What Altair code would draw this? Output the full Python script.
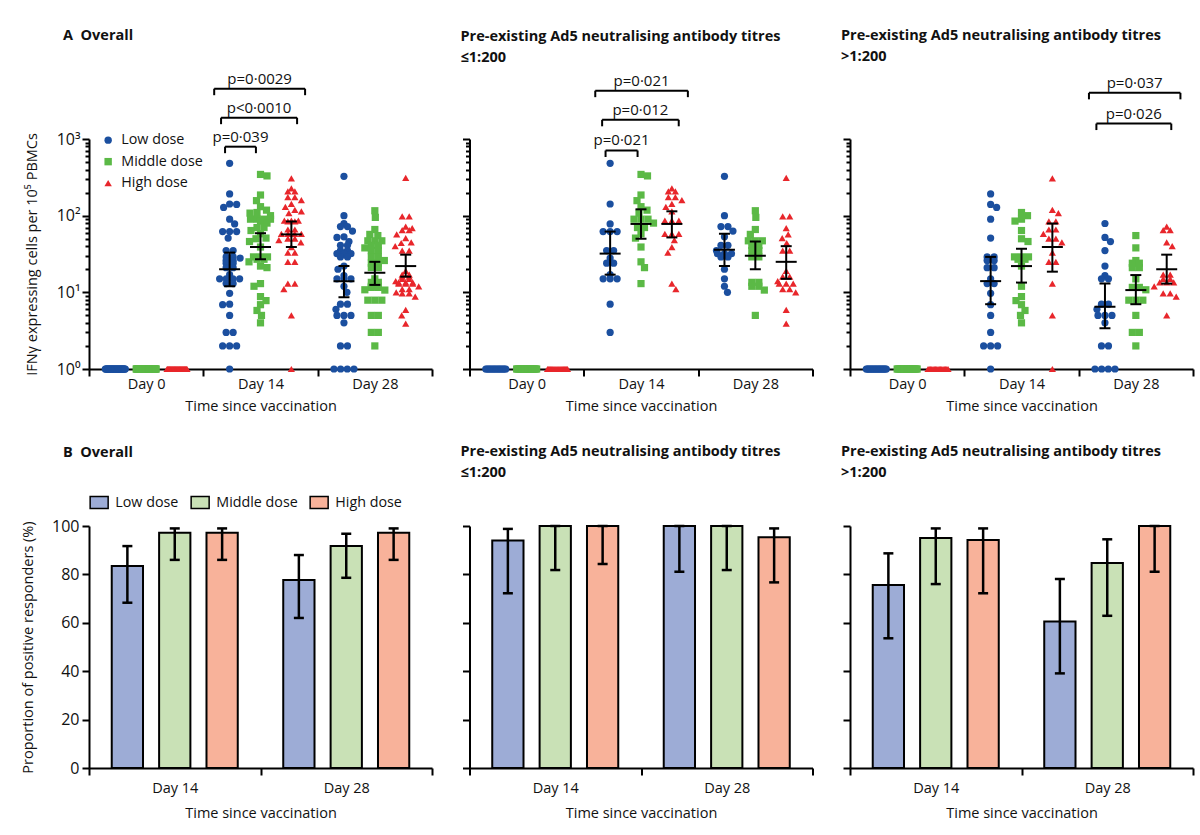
import math
import altair as alt
import pandas as pd

FONT = "Open Sans"
DOSES = ["Low dose", "Middle dose", "High dose"]
DAYS_A = ["Day 0", "Day 14", "Day 28"]
DAYS_B = ["Day 14", "Day 28"]

DOT_COLORS = ["#1B4F9F", "#5BB946", "#E8262B"]
BAR_COLORS = ["#9DACD6", "#C9E1B6", "#F8B29A"]

# ---------------- Panel A: IFN-gamma ELISpot (cells per 10^5 PBMCs) ----------------
# Pre-existing Ad5 NAb <=1:200
le_d0_low = [1] * 17
le_d0_mid = [1] * 19
le_d0_high = [1] * 20
le_d14_low = [482, 142, 78, 62, 62, 62, 35, 35, 28, 24, 24, 17, 15, 15, 15, 7, 3]
le_d14_mid = [345, 330, 186, 157, 131, 118, 108, 90, 90, 90, 80, 70, 70, 58, 51, 39, 25, 21, 13]
le_d14_high = [227, 208, 208, 174, 174, 160, 142, 130, 114, 86, 86, 86, 58, 58, 58, 48, 39, 33, 13, 11]
le_d28_low = [326, 100, 72, 72, 63, 53, 41, 41, 35, 32, 32, 32, 29, 29, 20, 15, 12, 10]
le_d28_mid = [116, 95, 66, 57, 47, 47, 47, 41, 41, 35, 35, 29, 29, 13.5, 13.5, 12, 12, 10.7, 5]
le_d28_high = [310, 98, 98, 69, 57, 51, 44, 35, 35, 19, 16, 16, 14, 13, 13, 13, 11, 11, 10, 5.9, 3.9]

# Pre-existing Ad5 NAb >1:200
gt_d0_low = [1] * 22
gt_d0_mid = [1] * 20
gt_d0_high = [1] * 17
gt_d14_low = [192, 140, 128, 90, 51, 29, 29, 26, 26, 21, 21, 15, 13, 13, 9.7, 6.9, 5, 3, 2, 2, 2, 1]
gt_d14_mid = [110, 100, 90, 85, 64, 50, 46, 29, 29, 29, 27, 27, 22, 12, 8.8, 7.8, 6.9, 5.8, 5, 4]
gt_d14_high = [307, 119, 108, 84, 84, 66, 66, 58, 50, 50, 45, 33, 25, 25, 13, 5, 1]
gt_d28_low = [79, 52, 46, 35, 22, 16.5, 15, 15, 7, 7, 6, 5, 5, 5, 4, 2, 2, 1, 1, 1, 1]
gt_d28_mid = [55, 38, 26, 24, 24, 21, 21, 15, 11.6, 11.6, 10.8, 7.9, 7.9, 7.9, 5, 3, 3, 2]
gt_d28_high = [72, 65, 65, 45, 40, 17, 17, 15, 15, 13.5, 13.5, 13.5, 12, 9.7, 9.7, 8.8, 5]

# medians and interquartile ranges (Day 14, Day 28) x (low, middle, high)
all_med = [[20, 39, 57], [14, 18, 22]]
all_q1 = [[12, 27, 39], [8.6, 12.5, 16]]
all_q3 = [[33, 59, 84], [22, 25, 31]]
le_med = [[32, 78, 78], [36, 30, 25]]
le_q1 = [[17, 50, 52], [22, 20, 15]]
le_q3 = [[62, 121, 114], [58, 46, 40]]
gt_med = [[14, 22, 39], [6.5, 10.7, 20]]
gt_q1 = [[7, 13.4, 18.6], [3.4, 7, 13]]
gt_q3 = [[29, 37, 79], [13, 16.8, 31]]

# significance brackets (x in day units: Day 0 = 0, Day 14 = 1, Day 28 = 2)
br_panel = ["all", "all", "all", "le", "le", "le", "gt", "gt"]
br_x1 = [0.69, 0.655, 0.595, 0.69, 0.66, 0.60, 1.655, 1.59]
br_x2 = [0.96, 1.32, 1.39, 0.97, 1.33, 1.41, 2.31, 2.39]
br_y = [794, 1897, 4530, 708, 1780, 4270, 1590, 4000]
br_label = ["p=0·039", "p<0·0010", "p=0·0029", "p=0·021", "p=0·012", "p=0·021", "p=0·026", "p=0·037"]

# ---------------- Panel B: proportion of positive responders (%) ----------------
all_pct = [[83.5, 97.2, 97.2], [77.7, 91.7, 97.2]]
all_lo = [[68.3, 86.0, 86.0], [62.0, 78.6, 86.0]]
all_hi = [[91.7, 99.0, 99.0], [88.0, 96.8, 99.0]]
le_pct = [[94.0, 100, 100], [100, 100, 95.3]]
le_lo = [[72.2, 81.8, 84.3], [81.1, 81.8, 76.7]]
le_hi = [[98.8, 100, 100], [100, 100, 99.0]]
gt_pct = [[75.6, 95.0, 94.2], [60.5, 84.7, 100]]
gt_lo = [[53.6, 76.0, 72.2], [39.1, 62.9, 81.1]]
gt_hi = [[88.7, 99.0, 99.0], [78.1, 94.5, 100]]

# ---------------- layout helpers ----------------
W_A, H_A = 343, 230
W_B, H_B = 343, 242
PX_UNIT = W_A / 3.0          # pixels per day unit
PX_DEC = H_A / 3.0           # pixels per decade
DOSE_OFF = {"Low dose": -0.27, "Middle dose": 0.0, "High dose": 0.27}


def swarm(vals, row_cap=10.0, cap=13.0, d=7.0):
    vs = sorted(vals, reverse=True)
    placed, res = [], []
    i, flip = 0, 1
    while i < len(vs):
        j = i
        while j < len(vs) and vs[j] == vs[i]:
            j += 1
        k = j - i
        y = math.log10(vs[i]) * PX_DEC
        if k == 1:
            cands = [0.0]
            m = 1
            while m * 0.5 <= cap:
                cands += [flip * m * 0.5, -flip * m * 0.5]
                m += 1
            best, bestd, bestx = None, -1, 0.0
            for c in cands:
                md = min((math.hypot(c - px, y - py) for px, py in placed), default=1e9)
                if md >= d * 0.95:
                    best = c
                    break
                if md > bestd:
                    bestd, bestx = md, c
            xs = [best if best is not None else bestx]
            if xs[0] != 0:
                flip = -flip
        else:
            s = min(d, 2 * row_cap / (k - 1))
            xs = [(m - (k - 1) / 2) * s for m in range(k)]
        for x in xs:
            placed.append((x, y))
            res.append((vs[i], x))
        i = j
    return res


groups = {
    "le": [[le_d0_low, le_d0_mid, le_d0_high], [le_d14_low, le_d14_mid, le_d14_high],
           [le_d28_low, le_d28_mid, le_d28_high]],
    "gt": [[gt_d0_low, gt_d0_mid, gt_d0_high], [gt_d14_low, gt_d14_mid, gt_d14_high],
           [gt_d28_low, gt_d28_mid, gt_d28_high]],
}
groups["all"] = [[groups["le"][d][k] + groups["gt"][d][k] for k in range(3)] for d in range(3)]

rows = []
for pk, g in groups.items():
    for d in range(3):
        for k, dose in enumerate(DOSES):
            for v, xo in swarm(g[d][k]):
                rows.append({"panel": pk, "dose": dose, "value": v,
                             "x": d + DOSE_OFF[dose] + xo / PX_UNIT})
df_pts = pd.DataFrame(rows)

stat_src = {"all": (all_med, all_q1, all_q3), "le": (le_med, le_q1, le_q3), "gt": (gt_med, gt_q1, gt_q3)}
srows = []
for pk, (md, q1, q3) in stat_src.items():
    for di in range(2):
        for k, dose in enumerate(DOSES):
            srows.append({"panel": pk, "dose": dose, "x": di + 1 + DOSE_OFF[dose],
                          "med": md[di][k], "q1": q1[di][k], "q3": q3[di][k]})
df_st = pd.DataFrame(srows)

df_br = pd.DataFrame({"panel": br_panel, "x1": br_x1, "x2": br_x2, "y": br_y, "label": br_label})
df_br["yb"] = df_br["y"] / 10 ** (6.5 / PX_DEC)
df_br["xm"] = (df_br["x1"] + df_br["x2"]) / 2

bar_src = {"all": (all_pct, all_lo, all_hi), "le": (le_pct, le_lo, le_hi), "gt": (gt_pct, gt_lo, gt_hi)}
brows = []
for pk, (pc, lo, hi) in bar_src.items():
    for di, day in enumerate(DAYS_B):
        for k, dose in enumerate(DOSES):
            brows.append({"panel": pk, "day": day, "dose": dose,
                          "pct": pc[di][k], "lo": lo[di][k], "hi": hi[di][k]})
df_bar = pd.DataFrame(brows)

# ---------------- scales / axes ----------------
XS_A = alt.Scale(domain=[-0.5, 2.5], nice=False, zero=False)
YS_A = alt.Scale(type="log", domain=[1, 1000], nice=False)
YVALS = [1, 2, 3, 4, 5, 6, 7, 8, 9, 10, 20, 30, 40, 50, 60, 70, 80, 90,
         100, 200, 300, 400, 500, 600, 700, 800, 900, 1000]

AX_XA = alt.Axis(values=[-0.5, 0, 0.5, 1, 1.5, 2, 2.5],
                 labelExpr="datum.value == 0 ? 'Day 0' : datum.value == 1 ? 'Day 14' : datum.value == 2 ? 'Day 28' : ''",
                 tickOpacity={"condition": {"test": "datum.value % 1 != 0", "value": 1}, "value": 0},
                 title="Time since vaccination", labelPadding=1, titlePadding=9,
                 labelOverlap=False, labelFlush=False)


def ax_ya(left):
    common = dict(values=YVALS, labelOverlap=False,
                  tickSize={"condition": {"test": "indexof([1, 10, 100, 1000], datum.value) >= 0", "value": 7},
                            "value": 4})
    if left:
        return alt.Axis(labelExpr="datum.value == 1 ? '10⁰' : datum.value == 10 ? '10¹' : datum.value == 100 ? '10²' : datum.value == 1000 ? '10³' : ''",
                        title="IFNγ expressing cells per 10⁵ PBMCs", labelPadding=2, titlePadding=17,
                        labelFontSize=16, **common)
    return alt.Axis(labels=False, title=None, **common)


COLOR_A = alt.Scale(domain=DOSES, range=DOT_COLORS)
SHAPE_A = alt.Scale(domain=DOSES, range=["circle", "square", "triangle-up"])
LEG_A = alt.Legend(title=None, orient="none", legendX=12, legendY=-6, symbolSize=55,
                   labelFontSize=14.3, rowPadding=6.5, labelOffset=6, symbolOpacity=1)


def panel_A(pk, title):
    left = pk == "all"
    pts = df_pts[df_pts.panel == pk]
    st = df_st[df_st.panel == pk]
    br = df_br[df_br.panel == pk]
    ay = ax_ya(left)

    def X(f):
        return alt.X(f"{f}:Q", scale=XS_A, axis=AX_XA)

    def Y(f):
        return alt.Y(f"{f}:Q", scale=YS_A, axis=ay)

    if left:
        col = alt.Color("dose:N", scale=COLOR_A, legend=LEG_A)
        shp = alt.Shape("dose:N", scale=SHAPE_A, legend=LEG_A)
    else:
        col = alt.Color("dose:N", scale=COLOR_A, legend=None)
        shp = alt.Shape("dose:N", scale=SHAPE_A, legend=None)

    points = alt.Chart(pts).mark_point(filled=True, opacity=1, size=52).encode(
        x=X("x"), y=Y("value"), color=col, shape=shp)
    rule = alt.Chart(st).mark_rule(color="black", strokeWidth=2).encode(x=X("x"), y=Y("q1"), y2="q3:Q")
    med = alt.Chart(st).mark_tick(orient="horizontal", color="black", size=21, thickness=2, opacity=1).encode(
        x=X("x"), y=Y("med"))
    c1 = alt.Chart(st).mark_tick(orient="horizontal", color="black", size=11, thickness=2, opacity=1).encode(
        x=X("x"), y=Y("q1"))
    c3 = alt.Chart(st).mark_tick(orient="horizontal", color="black", size=11, thickness=2, opacity=1).encode(
        x=X("x"), y=Y("q3"))
    bh = alt.Chart(br).mark_rule(color="black", strokeWidth=2).encode(x=X("x1"), x2="x2:Q", y=Y("y"))
    bl = alt.Chart(br).mark_rule(color="black", strokeWidth=2).encode(x=X("x1"), y=Y("y"), y2="yb:Q")
    brr = alt.Chart(br).mark_rule(color="black", strokeWidth=2).encode(x=X("x2"), y=Y("y"), y2="yb:Q")
    bt = alt.Chart(br).mark_text(font=FONT, fontSize=15, baseline="alphabetic", dy=-5, color="#111").encode(
        x=X("xm"), y=Y("y"), text="label:N")
    return alt.layer(points, rule, med, c1, c3, bh, bl, brr, bt).properties(
        width=W_A, height=H_A, title=title)


XS_B = alt.Scale(domain=DAYS_B, paddingInner=0, paddingOuter=0)
XO_B = alt.Scale(domain=DOSES, paddingInner=0.34, paddingOuter=0.48)
YS_B = alt.Scale(domain=[0, 100], nice=False)
FILL_B = alt.Scale(domain=DOSES, range=BAR_COLORS)
AX_XB = alt.Axis(tickBand="extent", labelAngle=0, title="Time since vaccination",
                 labelPadding=6, titlePadding=12)
LEG_B = alt.Legend(title=None, orient="none", direction="horizontal", legendX=3, legendY=-31,
                   symbolType="M-1.5,-1H1.5V1H-1.5Z", symbolSize=144, symbolStrokeColor="black",
                   symbolStrokeWidth=1.5, labelFontSize=14.3, columnPadding=9, labelOffset=9,
                   symbolOpacity=1)


def panel_B(pk, title):
    left = pk == "all"
    bd = df_bar[df_bar.panel == pk]
    if left:
        ay = alt.Axis(values=[0, 20, 40, 60, 80, 100], title="Proportion of positive responders (%)",
                      labelPadding=3, titlePadding=16, labelFontSize=16)
    else:
        ay = alt.Axis(values=[0, 20, 40, 60, 80, 100], labels=False, title=None)
    X = alt.X("day:N", scale=XS_B, axis=AX_XB)
    XO = alt.XOffset("dose:N", scale=XO_B)

    def Y(f):
        return alt.Y(f"{f}:Q", scale=YS_B, axis=ay)

    fill = alt.Fill("dose:N", scale=FILL_B, legend=LEG_B if left else None)
    bars = alt.Chart(bd).mark_bar(stroke="black", strokeWidth=2).encode(x=X, xOffset=XO, y=Y("pct"), fill=fill)
    err = alt.Chart(bd).mark_rule(color="black", strokeWidth=2.5).encode(x=X, xOffset=XO, y=Y("lo"), y2="hi:Q")
    cl = alt.Chart(bd).mark_tick(orient="horizontal", color="black", size=10, thickness=2.5, opacity=1).encode(
        x=X, xOffset=XO, y=Y("lo"))
    ch = alt.Chart(bd).mark_tick(orient="horizontal", color="black", size=10, thickness=2.5, opacity=1).encode(
        x=X, xOffset=XO, y=Y("hi"))
    return alt.layer(bars, err, cl, ch).properties(width=W_B, height=H_B, title=title)


def ttl(text, dx, offset):
    return alt.TitleParams(text=text, anchor="start", frame="group", dx=dx, offset=offset, lineHeight=21)


a1 = panel_A("all", ttl("A\u00a0\u00a0Overall", -26, 28))
a2 = panel_A("le", ttl(["Pre-existing Ad5 neutralising antibody titres", "≤1:200"], -9, 8))
a3 = panel_A("gt", ttl(["Pre-existing Ad5 neutralising antibody titres", ">1:200"], -9, 11))
b1 = panel_B("all", ttl("B\u00a0\u00a0Overall", -26, 35))
b2 = panel_B("le", ttl(["Pre-existing Ad5 neutralising antibody titres", "≤1:200"], -9, 44))
b3 = panel_B("gt", ttl(["Pre-existing Ad5 neutralising antibody titres", ">1:200"], -9, 44))

chart = alt.concat(a1, a2, a3, b1, b2, b3, columns=3,
                   spacing={"row": 157, "column": 37.5}, bounds="flush").resolve_scale(
    color="independent", shape="independent", fill="independent"
).properties(
    padding={"left": 20, "top": 28, "right": 5, "bottom": 5}, background="white"
).configure_view(stroke=None).configure_axis(
    domainColor="black", domainWidth=2, tickColor="black", tickWidth=2, tickSize=7,
    labelFont=FONT, labelFontSize=14.5, labelColor="#111", titleFont=FONT, titleFontSize=14.5,
    titleFontWeight="normal", titleColor="#111", grid=False
).configure_title(
    font=FONT, fontSize=14.5, fontWeight="bold", color="#111", anchor="start"
).configure_legend(labelFont=FONT, labelColor="#111")

chart.save("out.html", embed_options={"renderer": "svg", "actions": False})
